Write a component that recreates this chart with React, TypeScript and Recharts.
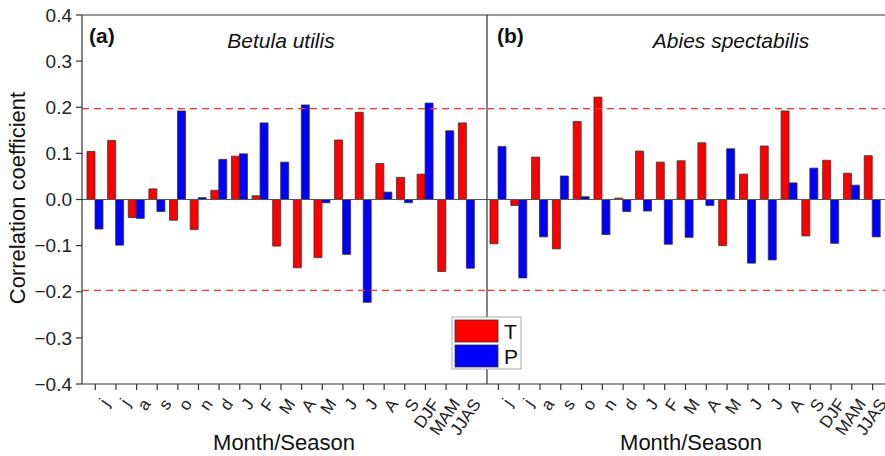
import React from 'react';
import { BarChart, Bar, XAxis, YAxis, ReferenceLine } from 'recharts';

const months = ['j', 'j', 'a', 's', 'o', 'n', 'd', 'J', 'F', 'M', 'A', 'M', 'J', 'J', 'A', 'S', 'DJF', 'MAM', 'JJAS'];

// Betula utilis
const betulaT = [0.104, 0.128, -0.039, 0.023, -0.045, -0.065, 0.02, 0.094, 0.008, -0.101, -0.148, -0.126, 0.129, 0.189, 0.078, 0.048, 0.055, -0.156, 0.166];
const betulaP = [-0.064, -0.099, -0.041, -0.026, 0.192, 0.004, 0.087, 0.099, 0.166, 0.081, 0.205, -0.007, -0.119, -0.223, 0.016, -0.007, 0.209, 0.149, -0.149];

// Abies spectabilis
const abiesT = [-0.096, -0.013, 0.092, -0.107, 0.169, 0.222, 0.003, 0.105, 0.081, 0.084, 0.123, -0.1, 0.055, 0.116, 0.192, -0.079, 0.085, 0.057, 0.095];
const abiesP = [0.115, -0.17, -0.081, 0.051, 0.006, -0.076, -0.026, -0.025, -0.097, -0.082, -0.013, 0.11, -0.138, -0.131, 0.036, 0.068, -0.095, 0.031, -0.081];

const yTicks = [-0.4, -0.3, -0.2, -0.1, 0, 0.1, 0.2, 0.3, 0.4];
const significance = 0.197;

const seriesNames = ['T', 'P'];
const seriesColors = ['#ff0000', '#0000ff'];

const font = '"Liberation Sans", Arial, sans-serif';

const toRows = (t: number[], p: number[]) =>
  months.map((m, i) => ({ key: String(i), T: t[i], P: p[i] }));

const betulaData = toRows(betulaT, betulaP);
const abiesData = toRows(abiesT, abiesP);

const fmtY = (v: number) => (v < 0 ? '\u2212' + Math.abs(v).toFixed(1) : v.toFixed(1));

const AngledTick = (props: any) => {
  const { x, y, payload } = props;
  return (
    <g transform={`translate(${x + 5},${y})`}>
      <text transform="rotate(-55)" textAnchor="end" dy="0.71em" fontSize={17} fill="#222" fontFamily={font}>
        {months[Number(payload.value)]}
      </text>
    </g>
  );
};

const axisStroke = { stroke: '#333', strokeWidth: 1.2 };

const Panel = ({ data, left }: { data: any[]; left: boolean }) => (
  <BarChart
    width={left ? 488 : 398}
    height={456}
    data={data}
    margin={{ top: 15, right: 0, left: 0, bottom: 12 }}
    barGap={0}
  >
    <XAxis
      dataKey="key"
      height={60}
      interval={0}
      padding={left ? { left: 3, right: 10 } : { left: 1, right: 2 }}
      tick={<AngledTick />}
      tickSize={6}
      tickMargin={7}
      axisLine={axisStroke}
      tickLine={axisStroke}
    />
    {left ? (
      <YAxis
        width={82}
        domain={[-0.4, 0.4]}
        ticks={yTicks}
        tickFormatter={fmtY}
        tickSize={6}
        tickMargin={4}
        tick={{ fontSize: 19, fill: '#222', fontFamily: font }}
        axisLine={axisStroke}
        tickLine={axisStroke}
      />
    ) : (
      <YAxis hide domain={[-0.4, 0.4]} ticks={yTicks} />
    )}
    {left && (
      <YAxis yAxisId="div" orientation="right" width={1} domain={[-0.4, 0.4]} tick={false} tickLine={false} axisLine={axisStroke} />
    )}
    <ReferenceLine y={0.4} stroke="#333" strokeWidth={1.2} />
    <ReferenceLine y={0} stroke="#555" strokeWidth={1} />
    <ReferenceLine y={significance} stroke="#ff3030" strokeWidth={1.3} strokeDasharray="7 5" />
    <ReferenceLine y={-significance} stroke="#ff3030" strokeWidth={1.3} strokeDasharray="7 5" />
    {seriesNames.map((s, i) => (
      <Bar key={s} dataKey={s} fill={seriesColors[i]} stroke="#333" strokeWidth={0.8} barSize={8} isAnimationActive={false} />
    ))}
  </BarChart>
);

export default function App() {
  return (
    <div style={{ position: 'absolute', left: 0, top: 0, width: 885, height: 456, background: '#fff', overflow: 'hidden' }}>
      <div style={{ position: 'absolute', left: 0, top: 0 }}>
        <Panel data={betulaData} left />
      </div>
      <div style={{ position: 'absolute', left: 487, top: 0 }}>
        <Panel data={abiesData} left={false} />
      </div>
      <svg width={885} height={456} style={{ position: 'absolute', left: 0, top: 0, pointerEvents: 'none' }} fontFamily={font}>
        <text x={89} y={43} fontSize={21} fontWeight="bold" fill="#111">(a)</text>
        <text x={281} y={48} fontSize={21} fontStyle="italic" textAnchor="middle" fill="#111">Betula utilis</text>
        <text x={497} y={43} fontSize={21} fontWeight="bold" fill="#111">(b)</text>
        <text x={731} y={48} fontSize={21} fontStyle="italic" textAnchor="middle" fill="#111">Abies spectabilis</text>
        <text transform="translate(25,198) rotate(-90)" fontSize={22} textAnchor="middle" fill="#111">Correlation coefficient</text>
        <text x={284} y={450} fontSize={22} textAnchor="middle" fill="#111">Month/Season</text>
        <text x={691} y={450} fontSize={22} textAnchor="middle" fill="#111">Month/Season</text>
        <rect x={452} y={317} width={69} height={52} fill="#fff" stroke="#aaa" strokeWidth={1} />
        {seriesNames.map((s, i) => (
          <g key={s}>
            <rect x={455} y={320 + i * 25} width={43} height={22} fill={seriesColors[i]} stroke="#333" strokeWidth={0.8} />
            <text x={504} y={339 + i * 25} fontSize={21} fill="#111">{s}</text>
          </g>
        ))}
      </svg>
    </div>
  );
}
